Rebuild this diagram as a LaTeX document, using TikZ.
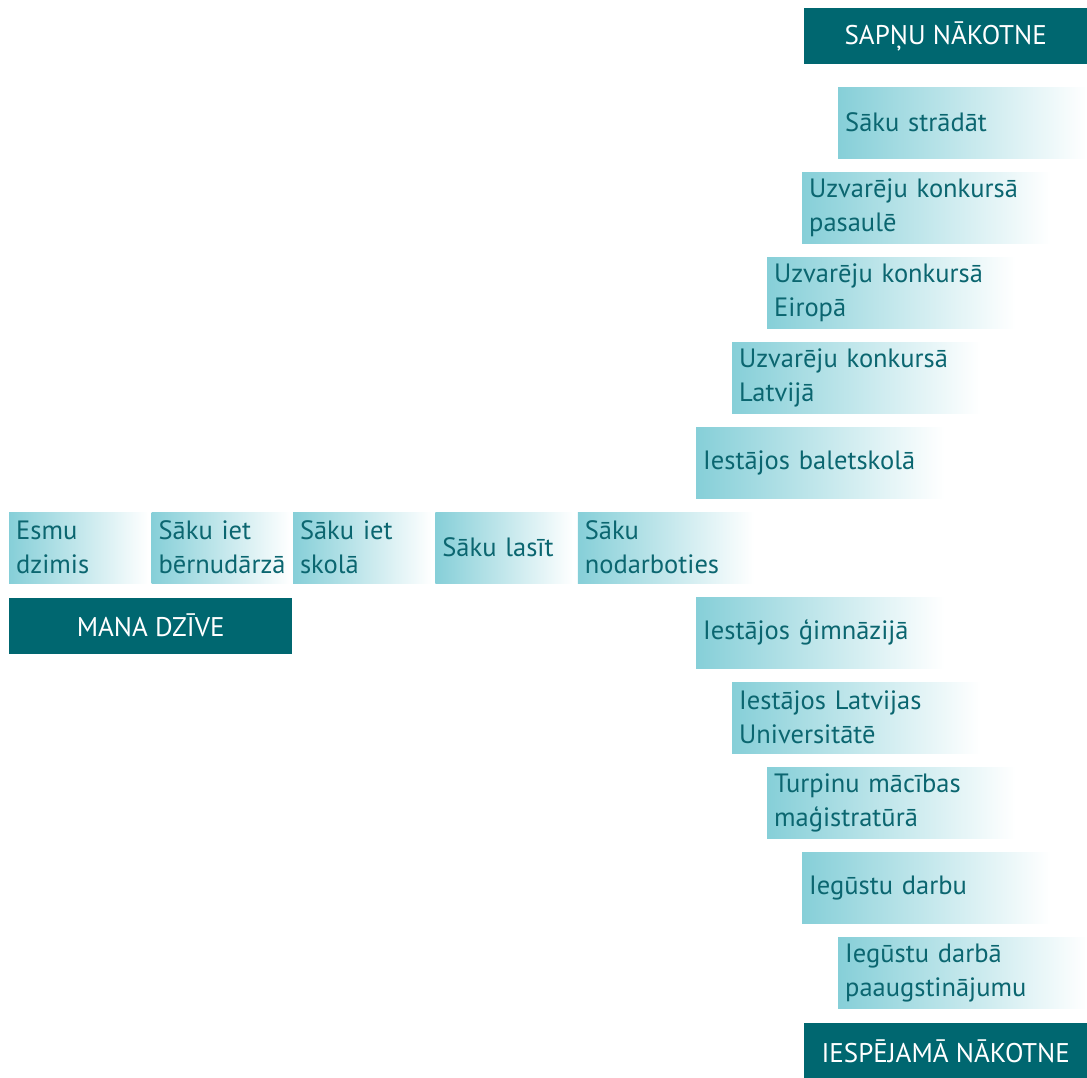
\documentclass[tikz,border=0pt]{standalone}
\usepackage{fontspec}
\setmainfont{PT Sans}
\usetikzlibrary{positioning}
\definecolor{lightteal}{HTML}{86CFD8}
\definecolor{darkteal}{HTML}{006770}
\definecolor{textteal}{HTML}{0B6670}

\begin{document}
\begin{tikzpicture}[x=1pt, y=-1pt,
	step box/.style={anchor=north west, left color=lightteal, right color=white, text=textteal, inner xsep=7pt, inner ysep=0pt, minimum height=71pt, align=left, font=\fontsize{26.5}{34}\selectfont},
	title box/.style={anchor=north west, fill=darkteal, text=white, inner sep=0pt, minimum height=56pt, font=\fontsize{27}{32}\selectfont}]
	\useasboundingbox (0,0) rectangle (1087,1077);
	% life so far
	\node (born) [step box, text width=125pt] at (9,512) {Esmu\\dzimis};
	\node (kinder) [step box, text width=125pt, right=3pt of born] {Sāku iet\\bērnudārzā};
	\node (school) [step box, text width=125pt, right=2pt of kinder] {Sāku iet\\skolā};
	\node (read) [step box, text width=124pt, right=3pt of school] {Sāku lasīt};
	\node (hobby) [step box, text width=162pt, right=4pt of read] {Sāku\\nodarboties};
	\node (life) [title box, minimum width=283pt, below right=14pt and 0pt of born.south west, anchor=north west] {MANA DZĪVE};
	% dream future
	\node (ballet) [step box, text width=234pt] at (696,427) {Iestājos baletskolā};
	\node (winlv) [step box, text width=234pt] at (732,342) {Uzvarēju konkursā\\Latvijā};
	\node (wineu) [step box, text width=234pt] at (767,257) {Uzvarēju konkursā\\Eiropā};
	\node (winworld) [step box, text width=234pt] at (802,172) {Uzvarēju konkursā\\pasaulē};
	\node (work) [step box, text width=235pt] at (838,87) {Sāku strādāt};
	\node (dream) [title box, minimum width=283pt] at (804,8) {SAPŅU NĀKOTNE};
	% possible future
	\node (gym) [step box, text width=234pt] at (696,597) {Iestājos ģimnāzijā};
	\node (uni) [step box, text width=234pt] at (732,682) {Iestājos Latvijas\\Universitātē};
	\node (master) [step box, text width=234pt] at (767,767) {Turpinu mācības\\maģistratūrā};
	\node (job) [step box, text width=234pt] at (802,852) {Iegūstu darbu};
	\node (promo) [step box, text width=235pt] at (838,937) {Iegūstu darbā\\paaugstinājumu};
	\node (possible) [title box, minimum width=283pt] at (804,1023) {IESPĒJAMĀ NĀKOTNE};
\end{tikzpicture}
\end{document}
